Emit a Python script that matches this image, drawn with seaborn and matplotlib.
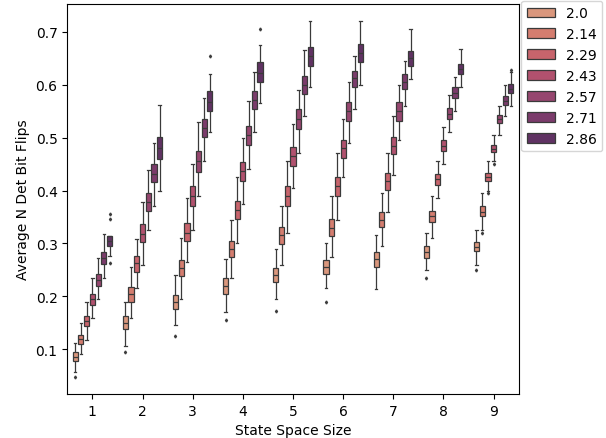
import pandas as pd
import matplotlib
matplotlib.use("Agg")
import matplotlib.pyplot as plt
import seaborn as sns

# x categories and hue levels
state_sizes = ['1', '2', '3', '4', '5', '6', '7', '8', '9']
hue_levels = ['2.0', '2.14', '2.29', '2.43', '2.57', '2.71', '2.86']

# box statistics, one row per hue level, one value per state size
med = [
    [0.085, 0.150, 0.190, 0.220, 0.240, 0.255, 0.270, 0.283, 0.293],
    [0.119, 0.205, 0.253, 0.290, 0.315, 0.330, 0.345, 0.352, 0.360],
    [0.153, 0.262, 0.320, 0.363, 0.390, 0.408, 0.418, 0.422, 0.425],
    [0.194, 0.318, 0.390, 0.437, 0.465, 0.480, 0.485, 0.485, 0.478],
    [0.231, 0.378, 0.455, 0.505, 0.535, 0.550, 0.550, 0.545, 0.535],
    [0.272, 0.432, 0.518, 0.571, 0.600, 0.612, 0.605, 0.585, 0.570],
    [0.305, 0.480, 0.567, 0.622, 0.655, 0.660, 0.650, 0.630, 0.592],
]
q1 = [
    [0.077, 0.138, 0.176, 0.204, 0.227, 0.242, 0.255, 0.272, 0.285],
    [0.110, 0.189, 0.238, 0.274, 0.299, 0.314, 0.331, 0.340, 0.352],
    [0.143, 0.246, 0.304, 0.346, 0.371, 0.390, 0.401, 0.410, 0.418],
    [0.183, 0.303, 0.371, 0.418, 0.446, 0.462, 0.469, 0.474, 0.472],
    [0.219, 0.361, 0.435, 0.486, 0.516, 0.532, 0.532, 0.535, 0.527],
    [0.261, 0.416, 0.501, 0.554, 0.583, 0.596, 0.592, 0.575, 0.562],
    [0.295, 0.460, 0.550, 0.605, 0.636, 0.643, 0.636, 0.620, 0.585],
]
q3 = [
    [0.094, 0.162, 0.202, 0.234, 0.253, 0.268, 0.284, 0.295, 0.302],
    [0.127, 0.217, 0.268, 0.304, 0.331, 0.346, 0.360, 0.362, 0.370],
    [0.162, 0.276, 0.338, 0.380, 0.409, 0.426, 0.433, 0.432, 0.433],
    [0.204, 0.337, 0.409, 0.454, 0.482, 0.496, 0.501, 0.495, 0.486],
    [0.242, 0.395, 0.475, 0.522, 0.554, 0.568, 0.568, 0.556, 0.543],
    [0.284, 0.450, 0.535, 0.588, 0.617, 0.626, 0.620, 0.595, 0.578],
    [0.314, 0.501, 0.588, 0.643, 0.672, 0.677, 0.664, 0.640, 0.602],
]
# whisker ends
lo = [
    [0.056, 0.106, 0.145, 0.170, 0.195, 0.215, 0.227, 0.250, 0.260],
    [0.097, 0.165, 0.205, 0.245, 0.270, 0.285, 0.305, 0.320, 0.325],
    [0.125, 0.225, 0.275, 0.315, 0.340, 0.360, 0.370, 0.390, 0.400],
    [0.165, 0.270, 0.335, 0.385, 0.415, 0.430, 0.440, 0.455, 0.455],
    [0.200, 0.335, 0.400, 0.455, 0.485, 0.500, 0.505, 0.515, 0.510],
    [0.242, 0.385, 0.470, 0.520, 0.550, 0.570, 0.570, 0.555, 0.545],
    [0.276, 0.420, 0.520, 0.575, 0.605, 0.615, 0.615, 0.600, 0.565],
]
hi = [
    [0.106, 0.185, 0.235, 0.260, 0.285, 0.295, 0.310, 0.310, 0.325],
    [0.143, 0.245, 0.300, 0.330, 0.355, 0.375, 0.385, 0.380, 0.390],
    [0.182, 0.295, 0.370, 0.410, 0.440, 0.455, 0.460, 0.450, 0.450],
    [0.225, 0.370, 0.440, 0.490, 0.515, 0.525, 0.530, 0.510, 0.500],
    [0.262, 0.425, 0.510, 0.555, 0.580, 0.595, 0.595, 0.570, 0.555],
    [0.305, 0.482, 0.565, 0.615, 0.650, 0.645, 0.640, 0.610, 0.595],
    [0.346, 0.562, 0.620, 0.675, 0.705, 0.705, 0.690, 0.655, 0.625],
]
# most extreme outliers
fmin = [
    [0.047, 0.094, 0.125, 0.155, 0.172, 0.190, 0.214, 0.235, 0.250],
    [0.090, 0.158, 0.195, 0.235, 0.260, 0.275, 0.295, 0.310, 0.320],
    [0.118, 0.215, 0.265, 0.300, 0.320, 0.345, 0.360, 0.385, 0.395],
    [0.158, 0.260, 0.325, 0.375, 0.405, 0.425, 0.430, 0.450, 0.450],
    [0.195, 0.325, 0.390, 0.440, 0.470, 0.490, 0.495, 0.510, 0.505],
    [0.235, 0.370, 0.455, 0.510, 0.540, 0.555, 0.560, 0.550, 0.540],
    [0.262, 0.400, 0.510, 0.565, 0.595, 0.600, 0.610, 0.595, 0.560],
]
fmax = [
    [0.112, 0.190, 0.240, 0.270, 0.290, 0.300, 0.315, 0.320, 0.325],
    [0.150, 0.255, 0.310, 0.345, 0.370, 0.390, 0.395, 0.390, 0.395],
    [0.190, 0.308, 0.385, 0.425, 0.455, 0.470, 0.470, 0.455, 0.455],
    [0.235, 0.378, 0.450, 0.500, 0.525, 0.535, 0.540, 0.520, 0.505],
    [0.272, 0.438, 0.530, 0.570, 0.590, 0.605, 0.600, 0.580, 0.560],
    [0.318, 0.490, 0.575, 0.625, 0.665, 0.655, 0.645, 0.615, 0.600],
    [0.355, 0.562, 0.655, 0.705, 0.720, 0.720, 0.706, 0.668, 0.628],
]

# build a long table whose quartiles / whiskers reproduce the stats above
rows = []
for h, hue in enumerate(hue_levels):
    for s, size in enumerate(state_sizes):
        vals = ([fmin[h][s], lo[h][s]] + [q1[h][s]] * 20 + [med[h][s]]
                + [q3[h][s]] * 20 + [hi[h][s], fmax[h][s]])
        for v in vals:
            rows.append((size, hue, v))
df = pd.DataFrame(rows, columns=['State Space Size', 'threshold', 'Average N Det Bit Flips'])

fig = plt.figure(figsize=(6.06, 4.39), dpi=100)
ax = fig.add_axes([0.111, 0.100, 0.745, 0.889])
sns.boxplot(data=df, x='State Space Size', y='Average N Det Bit Flips',
            hue='threshold', order=state_sizes, hue_order=hue_levels,
            palette='flare', linecolor='#3a3a3a', linewidth=0.9,
            fliersize=1.5, flierprops={'marker': 'd'}, gap=0.1, ax=ax)
ax.set_ylim(0.015, 0.753)
ax.legend(loc='upper left', bbox_to_anchor=(1.006, 1.008), borderaxespad=0)

fig.savefig('out.png', dpi=100)
